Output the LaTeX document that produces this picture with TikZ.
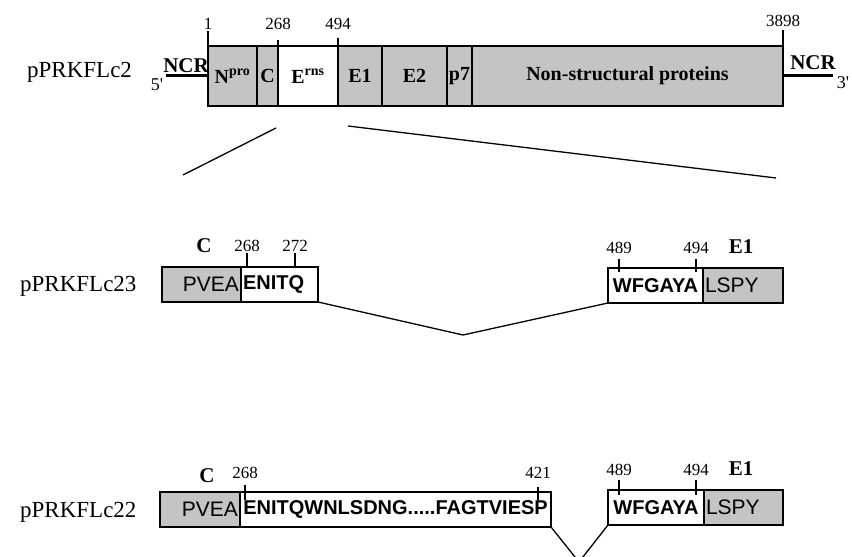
\documentclass[tikz,border=0pt]{standalone}
\usepackage{fontspec}
\setmainfont{Liberation Serif}
\setsansfont{Liberation Sans}
\usetikzlibrary{positioning}
\definecolor{protgray}{gray}{0.77}

\begin{document}
\begin{tikzpicture}[x=1pt,y=1pt,
   seg/.style={draw,line width=1.4pt,fill=protgray,minimum height=60pt,inner sep=0pt,outer sep=0pt,font=\fontsize{20}{22}\selectfont\bfseries},
   aa/.style={draw,line width=1.3pt,minimum height=35pt,inner xsep=2pt,inner ysep=0pt,outer sep=0pt,font=\fontsize{21}{23}\selectfont\sffamily},
   aab/.style={aa,font=\fontsize{20}{22}\selectfont\sffamily\bfseries},
   num/.style={inner sep=0pt,font=\fontsize{17}{19}\selectfont},
   dom/.style={inner sep=0pt,font=\fontsize{21}{23}\selectfont\bfseries},
   clone/.style={anchor=base west,inner sep=0pt,font=\fontsize{23}{26}\selectfont},
   tickln/.style={line width=1.2pt},
   ncr/.style={line width=3pt},
   joinln/.style={line width=1.3pt,line join=miter}]
\useasboundingbox (0,0) rectangle (852,557);
\clip (0,0) rectangle (852,557);
% pPRKFLc2
\node[clone] (c2) at (27,479) {pPRKFLc2};
\node[seg,minimum width=49pt,anchor=west] (npro) at (208,481) {N\textsuperscript{pro}};
\node[seg,minimum width=21pt,right=0pt of npro] (cc) {C};
\node[seg,fill=white,minimum width=60pt,right=0pt of cc] (erns) {E\textsuperscript{rns}};
\node[seg,minimum width=44pt,right=0pt of erns] (e1) {E1};
\node[seg,minimum width=65pt,right=0pt of e1] (e2) {E2};
\node[seg,minimum width=25pt,right=0pt of e2] (p7) {p7};
\node[seg,minimum width=311pt,right=0pt of p7] (nsp) {Non-structural proteins};
\draw[tickln] (npro.north west) -- ++(0,15);
\draw[tickln] (erns.north west) -- ++(0,6);
\draw[tickln] (erns.north east) -- ++(0,8);
\draw[tickln] (nsp.north east) -- ++(0,16);
\node[num,above=16pt of npro.north west] (t1) {1};
\node[num,above=16pt of erns.north west] (t268) {268};
\node[num,above=16pt of erns.north east] (t494) {494};
\node[num,above=19pt of nsp.north east] (t3898) {3898};
\draw[ncr] (npro.west) -- ++(-42,0) coordinate (end5);
\draw[ncr] (nsp.east) -- ++(50,0) coordinate (end3);
\node[dom] (ncr5) at (186,491) {NCR};
\node[num,font=\fontsize{18}{20}\selectfont] (p5) at (157,472) {5\textquotesingle};
\node[dom] (ncr3) at (813,494) {NCR};
\node[num,font=\fontsize{18}{20}\selectfont] (p3) at (843,474) {3\textquotesingle};
% zoom lines
\coordinate (zl1) at (276,429);
\coordinate (zl2) at (183,382);
\coordinate (zr1) at (348,431);
\coordinate (zr2) at (776,379);
\draw[joinln] (zl1) -- (zl2);
\draw[joinln] (zr1) -- (zr2);
% pPRKFLc23
\node[clone] (c23) at (20,265) {pPRKFLc23};
\node[aa,fill=protgray,text width=75pt,align=right,anchor=west] (pvea23) at (162,272.5) {PVEA};
\node[aab,text width=73pt,align=left,right=0pt of pvea23] (enitq23) {ENITQ};
\node[aab,text width=91pt,align=center,anchor=west] (wfg23) at (608,271.5) {WFGAYA};
\node[aa,fill=protgray,text width=76pt,align=left,right=0pt of wfg23] (lspy23) {LSPY};
\draw[tickln] ([xshift=6pt]enitq23.north west) -- ++(0,14) node[num,above=1pt] (a268) {268};
\draw[tickln] ([xshift=54pt]enitq23.north west) -- ++(0,14) node[num,above=1pt] (a272) {272};
\draw[tickln] ([xshift=11pt,yshift=-4pt]wfg23.north west) -- ++(0,13) node[num,above=5pt] (a489) {489};
\draw[tickln] ([xshift=88pt,yshift=-4pt]wfg23.north west) -- ++(0,13) node[num,above=5pt] (a494) {494};
\node[dom] (ca) at (204,311) {C};
\node[dom] (e1a) at (741,310) {E1};
\coordinate (v23) at (463,222);
\draw[joinln] (enitq23.south east) -- (v23) -- (wfg23.south west);
% pPRKFLc22
\node[clone] (c22) at (20,39) {pPRKFLc22};
\node[aa,fill=protgray,text width=76pt,align=right,anchor=west] (pvea22) at (160,47.5) {PVEA};
\node[aab,minimum width=311pt,right=0pt of pvea22] (enitq22) {ENITQWNLSDNG.....FAGTVIESP};
\node[aab,text width=92pt,align=center,anchor=west] (wfg22) at (608,49.5) {WFGAYA};
\node[aa,fill=protgray,text width=75pt,align=left,right=0pt of wfg22] (lspy22) {LSPY};
\draw[tickln] ([xshift=5pt,yshift=-8pt]enitq22.north west) -- ++(0,15) node[num,above=6pt] (b268) {268};
\draw[tickln] ([xshift=298pt,yshift=-8pt]enitq22.north west) -- ++(0,13) node[num,above=8pt] (b421) {421};
\draw[tickln] ([xshift=11pt,yshift=-5pt]wfg22.north west) -- ++(0,15) node[num,above=4pt] (b489) {489};
\draw[tickln] ([xshift=88pt,yshift=-5pt]wfg22.north west) -- ++(0,15) node[num,above=4pt] (b494) {494};
\node[dom] (cb) at (207,81) {C};
\node[dom] (e1b) at (741,88) {E1};
\coordinate (v22) at (579,-5);
\draw[joinln] (enitq22.south east) -- (v22) -- (wfg22.south west);
\end{tikzpicture}
\end{document}
